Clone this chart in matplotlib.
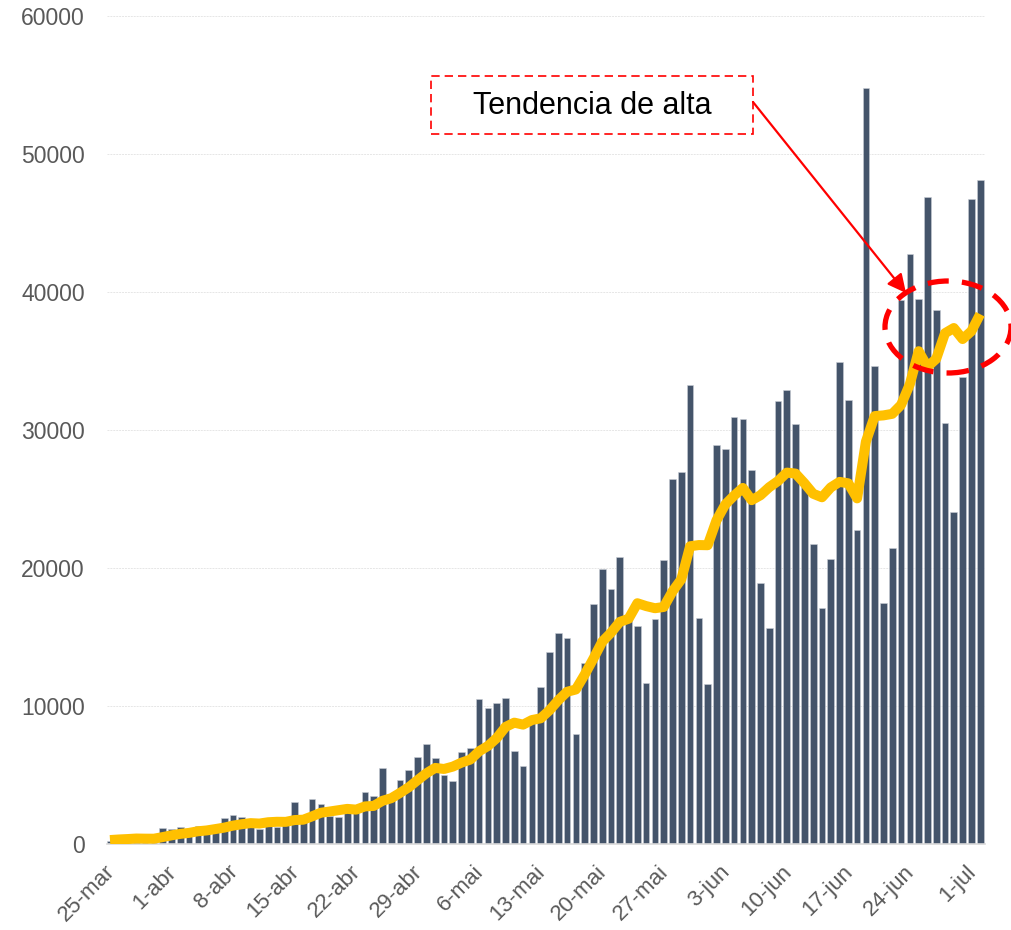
import matplotlib
matplotlib.use("Agg")
import matplotlib.pyplot as plt
from matplotlib.patches import Ellipse, Rectangle
import matplotlib.transforms as mtransforms
import numpy as np

plt.rcParams['font.family'] = ['Liberation Sans', 'DejaVu Sans']

# Daily new cases, 25-mar .. 2-jul
cases = [232, 482, 502, 487, 352, 323, 1138,
         1119, 1208, 1012, 1304, 770, 1031, 1873,
         2136, 1922, 1546, 1089, 1442, 1261, 1832,
         3058, 2105, 3257, 2917, 2055, 1927, 2498,
         2678, 3735, 3503, 5514, 3379, 4613, 5385,
         6276, 7218, 6209, 4970, 4588, 6633, 6935,
         10503, 9888, 10222, 10611, 6760, 5632, 9258,
         11385, 13944, 15305, 14919, 7938, 13140, 17408,
         19951, 18508, 20803, 16508, 15813, 11687, 16324,
         20599, 26417, 26928, 33274, 16409, 11598, 28936,
         28633, 30925, 30830, 27075, 18912, 15654, 32091,
         32913, 30412, 25982, 21704, 17110, 20647, 34918,
         32188, 22765, 54771, 34666, 17459, 21432, 39436,
         42725, 39483, 46860, 38693, 30476, 24052, 33846,
         46712, 48105]

# Trend line (7-day average) read per day
trend = [286, 328, 359, 397, 387, 384, 502,
         629, 733, 806, 922, 982, 1083, 1188,
         1333, 1435, 1512, 1481, 1577, 1610, 1604,
         1736, 1762, 2006, 2267, 2355, 2450, 2545,
         2491, 2724, 2759, 3130, 3319, 3703, 4115,
         4629, 5127, 5513, 5436, 5608, 5897, 6118,
         6722, 7104, 7677, 8483, 8793, 8650, 8982,
         9108, 9687, 10414, 11029, 11197, 12270, 13434,
         14658, 15310, 16095, 16322, 17447, 17240, 17085,
         17177, 18307, 19182, 21577, 21663, 21650, 23452,
         24599, 25243, 25801, 24915, 25273, 25852, 26303,
         26914, 26841, 26148, 25381, 25124, 25837, 26241,
         26137, 25045, 29158, 31009, 31059, 31171, 31817,
         33322, 35710, 34580, 35155, 37015, 37389, 36591,
         37160, 38392]

tick_labels = ['25-mar', '1-abr', '8-abr', '15-abr', '22-abr', '29-abr',
               '6-mai', '13-mai', '20-mai', '27-mai', '3-jun', '10-jun',
               '17-jun', '24-jun', '1-jul']
y_ticks = [0, 10000, 20000, 30000, 40000, 50000, 60000]
annotation_text = 'Tendencia de alta'

W, H = 1011, 930
fig = plt.figure(figsize=(W / 100, H / 100), dpi=100)
ax = fig.add_axes([107 / W, 1 - 844 / H, (985 - 107) / W, (844 - 16) / H])

x = np.arange(len(cases))
ax.bar(x, cases, width=0.76, color='#44546A', edgecolor='#c9ced6',
       linewidth=0.4, zorder=2)
ax.plot(x, trend, color='#FFC000', linewidth=7.2, solid_capstyle='butt',
        solid_joinstyle='round', zorder=3)

ax.set_xlim(-0.34, 99.55)
ax.set_ylim(0, 60000)
ax.set_yticks(y_ticks)
ax.set_yticklabels([str(v) for v in y_ticks])
ax.set_xticks(np.arange(0, 7 * len(tick_labels), 7))
ax.set_xticklabels(tick_labels, rotation=45, ha='right', va='top',
                   rotation_mode='anchor')

ax.tick_params(axis='y', length=0, pad=16, labelsize=16.5, labelcolor='#595959')
ax.tick_params(axis='x', length=0, pad=6, labelsize=16, labelcolor='#595959')

offset = mtransforms.ScaledTranslation(-6 / 100, -9 / 100, fig.dpi_scale_trans)
for lab in ax.get_xticklabels():
    lab.set_transform(lab.get_transform() + offset)

for s in ['top', 'right', 'left']:
    ax.spines[s].set_visible(False)
ax.spines['bottom'].set_color('#d9d9d9')
ax.spines['bottom'].set_linewidth(1.2)
ax.grid(axis='y', color='#e6e6e6', linewidth=0.7, linestyle=(0, (2, 1)))
ax.set_axisbelow(True)

# annotation box
box = Rectangle((431, H - 134), 322, 58, transform=None, fill=False,
                edgecolor='#ff0000', linewidth=1.2, linestyle=(0, (5, 3)),
                zorder=5)
fig.patches.append(box)
fig.text(592 / W, 1 - 106 / H, annotation_text, fontsize=22, color='black',
         ha='center', va='center')

# arrow
ax.annotate('', xy=(906, H - 293), xycoords='figure pixels',
            xytext=(753, H - 102), textcoords='figure pixels',
            arrowprops=dict(arrowstyle='-|>', color='#ff0000', lw=1.6,
                            mutation_scale=28, shrinkA=0, shrinkB=0),
            annotation_clip=False)

# dashed ellipse
ell = Ellipse((948, H - 327), 126, 92, transform=None, fill=False,
              edgecolor='#ff0000', linewidth=3.8, linestyle=(0, (4, 2.5)),
              zorder=6)
fig.patches.append(ell)

fig.savefig('out.png', dpi=100)
